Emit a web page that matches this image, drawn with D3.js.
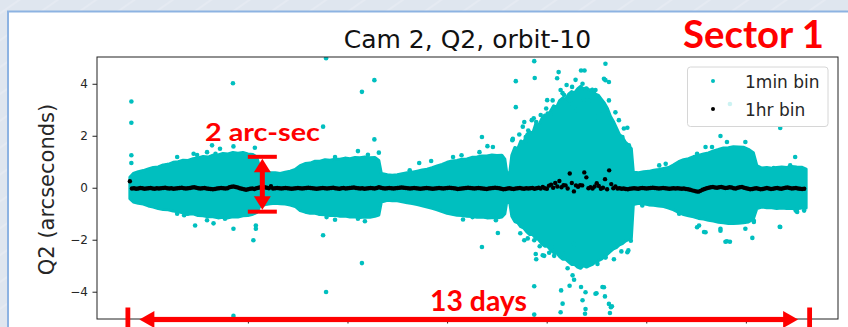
<!DOCTYPE html>
<html><head><meta charset="utf-8">
<script src="https://cdn.jsdelivr.net/npm/d3@7"></script>
<style>html,body{margin:0;padding:0;background:#dfe6ef;overflow:hidden} svg{display:block}</style>
</head><body><svg id="c" width="848" height="327"></svg>
<script>
// ---------- data ----------
const title = "Cam 2, Q2, orbit-10";
const yLabel = "Q2 (arcseconds)";
const xTicks = [1340, 1342, 1344, 1346, 1348, 1350, 1352];   // tick labels fall below the visible area
const yTicks = [-4, -2, 0, 2, 4];
const legendLabels = ["1min bin", "1hr bin"];

// dense core of the 1-min cloud (upper / lower envelope)
const coreDays = [1339.63,1339.70,1339.80,1339.90,1340.00,1340.10,1340.20,1340.30,1340.40,1340.50,1340.60,1340.70,1340.80,1340.90,1341.00,1341.10,1341.20,1341.30,1341.40,1341.50,1341.60,1341.70,1341.80,1341.90,1342.00,1342.10,1342.18,1342.24,
 1342.35,1342.45,1342.55,1342.65,1342.75,1342.85,1342.95,
 1343.05,1343.15,1343.25,1343.35,1343.45,1343.55,1343.65,1343.75,1343.85,1343.95,1344.05,1344.15,1344.25,1344.35,1344.45,1344.55,1344.63,1344.68,
 1344.80,1344.90,1345.00,1345.10,1345.20,1345.30,1345.40,1345.50,1345.60,1345.70,1345.80,1345.90,
 1346.00,1346.10,1346.20,1346.30,1346.40,1346.50,1346.60,1346.70,1346.80,1346.90,1347.00,1347.10,1347.16,1347.20,1347.26,
 1347.30,1347.36,1347.42,1347.48,1347.54,1347.60,1347.66,1347.72,1347.78,1347.84,1347.90,1347.96,1348.02,1348.08,1348.14,1348.20,1348.26,1348.32,1348.38,1348.44,1348.50,1348.56,1348.62,1348.68,1348.74,1348.80,1348.86,1348.92,1348.98,1349.04,1349.10,1349.16,1349.22,1349.28,1349.34,1349.40,1349.46,1349.52,1349.58,1349.64,1349.70,1349.74,
 1349.85,1349.95,1350.05,1350.15,1350.25,1350.35,1350.45,1350.55,
 1350.65,1350.75,1350.85,1350.95,1351.05,1351.15,1351.25,1351.35,1351.45,1351.55,1351.65,1351.75,1351.85,1351.95,1352.05,1352.15,1352.22,
 1352.32,1352.42,1352.52,1352.62,1352.72,1352.82,1352.92,1353.02,1353.12,1353.21];
const coreUpper = [0.40,0.55,0.62,0.66,0.72,0.78,0.80,0.88,0.90,0.98,1.00,1.06,1.05,1.12,1.15,1.20,1.18,1.25,1.26,1.32,1.30,1.36,1.33,1.36,1.30,1.28,1.18,0.75,
 0.62,0.58,0.58,0.55,0.60,0.64,0.70,
 0.85,0.93,0.95,1.02,1.02,1.08,1.06,1.10,1.10,1.14,1.12,1.16,1.15,1.18,1.15,1.16,1.05,0.55,
 0.50,0.48,0.50,0.54,0.58,0.60,0.64,0.68,0.71,0.77,0.84,0.90,
 0.98,1.03,1.05,1.10,1.11,1.17,1.18,1.22,1.22,1.26,1.24,1.25,1.10,0.55,0.60,
 1.25,1.55,1.50,1.80,1.75,2.05,2.15,2.10,2.45,2.40,2.65,2.80,2.75,2.95,3.15,3.10,3.35,3.45,3.40,3.60,3.70,3.65,3.80,3.90,3.80,3.85,3.75,3.80,3.60,3.55,3.40,3.25,3.05,2.75,2.55,2.30,2.05,1.95,1.75,1.65,1.50,0.60,
 0.58,0.62,0.63,0.67,0.70,0.74,0.78,0.88,
 1.00,1.08,1.12,1.20,1.24,1.30,1.34,1.42,1.47,1.53,1.54,1.58,1.57,1.56,1.48,1.35,0.85,
 0.76,0.78,0.75,0.78,0.80,0.78,0.82,0.80,0.79,0.72];
const coreLower = [-0.42,-0.55,-0.60,-0.63,-0.70,-0.74,-0.80,-0.84,-0.85,-0.90,-0.92,-0.97,-1.02,-1.00,-1.07,-1.08,-1.12,-1.12,-1.16,-1.14,-1.16,-1.12,-1.13,-1.08,-1.07,-1.02,-0.95,-0.72,
 -0.65,-0.62,-0.60,-0.62,-0.63,-0.67,-0.72,
 -0.88,-0.94,-0.98,-0.98,-1.03,-1.04,-1.07,-1.06,-1.10,-1.09,-1.13,-1.12,-1.15,-1.13,-1.14,-1.10,-1.05,-0.55,
 -0.48,-0.50,-0.50,-0.54,-0.58,-0.61,-0.65,-0.69,-0.74,-0.79,-0.85,-0.92,
 -0.98,-1.02,-1.06,-1.07,-1.10,-1.11,-1.14,-1.13,-1.16,-1.15,-1.17,-1.13,-1.00,-0.52,-0.60,
 -1.10,-1.30,-1.35,-1.50,-1.55,-1.70,-1.80,-1.80,-1.95,-2.00,-2.15,-2.25,-2.25,-2.40,-2.50,-2.50,-2.65,-2.75,-2.75,-2.85,-2.95,-2.95,-3.05,-3.10,-3.00,-3.05,-3.00,-2.95,-2.85,-2.80,-2.75,-2.65,-2.55,-2.45,-2.35,-2.30,-2.20,-2.15,-2.05,-2.00,-1.95,-0.65,
 -0.60,-0.62,-0.66,-0.67,-0.70,-0.72,-0.78,-0.85,
 -0.95,-1.03,-1.08,-1.12,-1.18,-1.20,-1.25,-1.28,-1.33,-1.35,-1.38,-1.38,-1.37,-1.35,-1.32,-1.20,-0.80,
 -0.74,-0.77,-0.77,-0.80,-0.78,-0.80,-0.80,-0.81,-0.78,-0.78];

// individual 1-min points outside the dense core
const minDays = [1339.66,1339.66,1339.66,1339.66,1341.28,1341.44,1340.94,1340.58,1340.72,1340.19,1340.98,1340.58,1340.38,1341.70,1343.57,1344.29,1344.54,1343.51,1344.54,1342.11,1342.16,1342.16,1341.71,1343.51,1343.57,1341.71,1343.58,1343.75,1341.54,1343.45,1341.71,1342.14,1343.75,1343.41,1344.29,1344.21,1344.41,1344.63,1344.35,1344.21,1345.44,1345.68,1345.25,1346.32,1346.12,1346.29,1347.75,1347.76,1347.38,1347.38,1348.24,1348.32,1347.55,1347.79,1346.70,1346.92,1347.32,1347.58,1348.69,1348.76,1348.72,1348.49,1348.02,1348.12,1346.70,1347.02,1347.55,1347.75,1347.79,1347.92,1347.75,1347.75,1348.29,1348.32,1348.52,1348.55,1348.69,1348.72,1348.77,1348.32,1348.15,1348.28,1348.46,1348.78,1348.78,1349.00,1349.15,1349.25,1349.29,1347.78,1347.95,1348.15,1348.55,1348.88,1349.02,1349.18,1349.62,1349.69,1349.42,1351.59,1351.68,1352.13,1352.68,1351.19,1351.49,1351.02,1353.00,1353.17,1352.16,1349.18,1349.15,1349.25,1349.25,1348.85,1348.98,1349.62,1349.52,1349.65,1349.12,1349.17,1349.31,1349.27,1348.98,1349.64,1349.18,1351.19,1351.02,1350.39,1350.26,1351.16,1351.06,1350.66,1349.92,1351.49,1351.62,1351.99,1351.86,1352.69,1352.99,1352.56,1352.89,1351.62,1351.99,1352.69,1352.16,1353.03,1351.49,1348.21,1349.18,1349.55,1347.74,1347.81,1348.28,1348.35,1348.51,1348.45,1348.61,1348.75,1348.98,1349.08,1347.31,1347.58,1348.01,1348.08,1347.66,1346.81,1340.91,1341.18,1341.35,1341.18,1341.31,1340.78,1344.04,1344.58,1346.65,1347.05,1346.51,1346.98,1351.32,1351.68,
 1347.45,1347.52,1347.63,1347.70,1347.88,1347.99,1348.40,1348.58,1349.38,1349.45,1347.47,1347.62,1347.86,1348.05,1348.42,1349.35,1349.50];
const minValues = [3.32,2.50,1.25,0.95,1.63,1.50,-1.45,-1.00,-1.06,-0.62,1.26,1.18,0.87,4.02,4.98,3.69,4.14,2.35,1.86,-2.02,-1.45,-1.58,-1.58,-1.83,-4.01,-4.93,-1.13,-1.23,-1.19,-1.00,1.59,1.54,1.18,0.80,-2.90,1.41,1.27,1.35,-1.29,-1.19,0.95,1.03,0.67,-1.22,1.18,1.25,4.87,4.22,4.10,3.10,4.45,3.64,2.53,2.53,1.95,1.57,1.88,1.95,4.51,4.51,4.00,3.26,2.85,3.36,-2.28,-1.74,-2.02,-2.02,-2.75,-2.60,-3.79,-4.88,-3.95,-4.46,-3.37,-3.54,-3.82,-4.33,-4.85,-2.54,-2.28,-4.79,-3.77,-4.67,-4.02,-4.06,-3.83,-4.47,-4.60,-2.55,-2.62,-2.62,-2.17,-2.93,-2.93,-2.68,-2.48,-2.04,-2.17,-2.08,-2.08,-1.93,-1.50,-1.71,-1.65,-1.52,-0.88,-0.88,-1.27,4.77,4.19,4.07,3.36,3.36,2.72,2.31,1.95,1.63,-3.82,-4.18,-4.56,-4.82,-4.08,-2.41,-2.67,1.57,1.31,0.92,0.86,-1.70,-1.45,-1.00,-0.68,1.99,1.76,1.76,1.50,2.30,1.18,0.76,0.86,-2.06,-1.58,-1.51,-1.32,-0.93,-1.58,4.21,4.14,2.28,2.67,2.35,3.76,3.57,3.88,3.37,2.99,3.37,3.76,2.99,1.83,1.77,3.37,2.86,2.09,1.60,1.31,1.37,1.31,-1.25,-1.37,-1.00,-1.00,-1.00,1.37,1.18,-1.13,-1.25,1.57,3.22,
 2.05,2.35,2.20,2.60,2.80,3.05,3.95,4.15,2.90,2.60,-1.75,-1.95,-2.25,-2.50,-3.10,-2.75,-2.45];

// 1-hour bins (one value per hour starting at hrStart)
const hrStart = 1339.63;
const hrValues = [
 0.25,-0.03,-0.02,-0.04,-0.03,-0.01,-0.02,-0.04,-0.03,-0.02,-0.01,-0.03,-0.04,-0.02,-0.03,-0.02,-0.01,0.0,-0.02,-0.03,-0.02,-0.04,-0.03,-0.02,
 -0.01,0.0,-0.02,-0.03,-0.02,-0.01,0.01,0.02,0.0,-0.02,-0.03,-0.02,-0.01,-0.03,-0.04,-0.05,-0.06,-0.05,-0.03,-0.02,-0.01,-0.02,-0.03,-0.02,
 0.02,0.04,0.05,0.03,0.01,-0.02,-0.04,-0.06,-0.08,-0.06,-0.04,-0.03,-0.05,-0.02,0.0,0.02,0.03,0.02,0.0,-0.02,0.06,-0.03,-0.02,-0.01,
 -0.02,-0.03,-0.02,-0.01,-0.02,-0.03,-0.04,-0.03,-0.02,-0.01,-0.02,-0.03,-0.02,-0.01,0.0,-0.01,-0.02,-0.03,-0.04,-0.03,-0.02,-0.01,-0.02,-0.03,
 -0.02,-0.01,0.0,-0.02,-0.03,-0.04,-0.02,-0.01,-0.03,-0.02,-0.01,0.0,0.01,-0.01,-0.02,-0.03,-0.02,-0.04,-0.03,-0.02,-0.01,-0.02,-0.03,-0.01,
 0.02,0.0,-0.02,-0.03,-0.02,-0.01,-0.02,-0.03,-0.02,-0.01,0.0,0.01,0.0,-0.01,-0.02,-0.03,-0.02,-0.01,-0.02,-0.03,-0.04,-0.03,-0.02,-0.01,
 -0.02,-0.03,-0.04,-0.03,-0.02,-0.01,-0.02,-0.03,-0.02,-0.01,0.0,-0.01,-0.02,-0.03,-0.05,-0.04,-0.03,-0.02,-0.01,0.0,-0.01,-0.02,-0.03,-0.02,
 -0.01,-0.02,-0.03,-0.04,-0.05,-0.03,-0.02,-0.01,0.0,-0.01,-0.02,-0.04,-0.06,-0.05,-0.03,-0.02,-0.04,-0.05,-0.03,-0.02,-0.01,-0.03,-0.04,-0.02,
 -0.03,-0.02,-0.01,-0.04,-0.02,0.0,-0.03,0.03,-0.02,-0.04,0.08,0.12,0.0,0.18,0.05,0.26,0.02,0.1,0.09,-0.03,0.55,0.18,-0.14,0.09,
 0.04,0.1,0.09,0.59,0.4,-0.02,0.02,-0.03,0.05,0.17,0.07,-0.04,0.0,0.33,-0.06,0.67,0.14,-0.02,0.05,-0.03,-0.02,-0.04,-0.03,-0.05,
 -0.06,-0.04,-0.03,-0.02,-0.03,-0.04,-0.02,-0.01,-0.02,-0.03,-0.02,-0.01,0.0,-0.01,-0.02,-0.03,-0.02,-0.01,-0.02,-0.03,-0.04,-0.03,-0.02,-0.03,
 -0.02,-0.03,-0.04,-0.03,-0.05,-0.06,-0.08,-0.1,-0.12,-0.14,-0.15,-0.12,-0.08,-0.05,-0.02,0.0,0.02,0.03,0.01,0.0,0.02,0.03,0.01,-0.01,
 0.0,0.02,0.01,-0.02,-0.03,0.0,0.02,0.03,0.0,-0.02,-0.04,-0.06,-0.05,-0.03,-0.02,-0.04,-0.06,-0.05,-0.03,-0.01,-0.03,-0.05,-0.04,-0.02,
 -0.01,-0.03,-0.04,-0.02,0.0,0.01,-0.01,-0.03,-0.02,-0.01,-0.03,-0.04,-0.05,-0.04
];

// annotation anchors (data coordinates)
const spanBar = {day: 1342.29, top: 1.19, bottom: -0.92};
const dayArrow = {start: 1339.59, end: 1353.28};

// ---------- drawing ----------
const W = 848, H = 327;
const M = {left: 97, right: 838, top: 57, bottom: 319};
const CYAN = "#00bfbf", RED = "#ff0000";
const svg = d3.select("#c");
const defs = svg.append("defs");

// slide background with faint diagonal stripes
const pat = defs.append("pattern").attr("id","stripes").attr("patternUnits","userSpaceOnUse")
  .attr("width",22).attr("height",22).attr("patternTransform","rotate(-35)");
pat.append("rect").attr("width",22).attr("height",22).attr("fill","#dfe6ef");
pat.append("line").attr("x1",0).attr("y1",11).attr("x2",22).attr("y2",11)
  .attr("stroke","#ffffff").attr("stroke-opacity",0.35).attr("stroke-width",1);
svg.append("rect").attr("width",W).attr("height",H).attr("fill","url(#stripes)");
// white panel
svg.append("rect").attr("x",8).attr("y",11.5).attr("width",W).attr("height",H)
  .attr("fill","#ffffff").attr("stroke","#8db3e2").attr("stroke-width",2);

const x = d3.scaleLinear().domain([1338.97, 1353.85]).range([M.left, M.right]);
const y = d3.scaleLinear().domain([-5.05, 5.03]).range([M.bottom, M.top]);

defs.append("clipPath").attr("id","plotclip").append("rect")
  .attr("x",M.left).attr("y",M.top).attr("width",M.right-M.left).attr("height",M.bottom-M.top);

const plot = svg.append("g").attr("clip-path","url(#plotclip)");

// dense 1-min core
const core = coreDays.map((d,i)=>({day:d, hi:coreUpper[i], lo:coreLower[i]}));
plot.append("path").datum(core)
  .attr("d", d3.area().x(d=>x(d.day)).y0(d=>y(d.lo)).y1(d=>y(d.hi)))
  .attr("fill",CYAN).attr("stroke",CYAN).attr("stroke-width",3).attr("stroke-linejoin","round");

// individual 1-min points
plot.append("g").selectAll("circle").data(minDays.map((d,i)=>({day:d, v:minValues[i]})))
  .join("circle").attr("cx",d=>x(d.day)).attr("cy",d=>y(d.v)).attr("r",2.3).attr("fill",CYAN);

// 1-hr points
plot.append("g").selectAll("circle").data(hrValues.map((v,i)=>({day:hrStart+i/24, v})))
  .join("circle").attr("cx",d=>x(d.day)).attr("cy",d=>y(d.v)).attr("r",2.2).attr("fill","#000");

// axes
const tickFont = "DejaVu Sans, sans-serif";
const gy = svg.append("g").attr("transform",`translate(${M.left},0)`)
  .call(d3.axisLeft(y).tickValues(yTicks).tickSize(4.5).tickPadding(4.5).tickFormat(d3.format("d")));
const gx = svg.append("g").attr("transform",`translate(0,${M.bottom})`)
  .call(d3.axisBottom(x).tickValues(xTicks).tickSize(4.5).tickFormat(""));
[gy,gx].forEach(g=>{
  g.select(".domain").remove();
  g.selectAll("line").attr("stroke","#222").attr("stroke-width",1);
  g.selectAll("text").attr("font-family",tickFont).attr("font-size",12).attr("fill","#262626");
});
svg.append("rect").attr("x",M.left).attr("y",M.top).attr("width",M.right-M.left).attr("height",M.bottom-M.top)
  .attr("fill","none").attr("stroke","#222").attr("stroke-width",1);

// title & y label
svg.append("text").attr("x",(M.left+M.right)/2).attr("y",48).attr("text-anchor","middle")
  .attr("font-family",tickFont).attr("font-size",25).attr("fill","#111").text(title);
svg.append("text").attr("transform",`translate(54,189.5) rotate(-90)`).attr("text-anchor","middle")
  .attr("font-family",tickFont).attr("font-size",21).attr("fill","#262626").text(yLabel);

// legend
const lg = svg.append("g");
lg.append("rect").attr("x",687.5).attr("y",67).attr("width",140.5).attr("height",59.5).attr("rx",3)
  .attr("fill","#fff").attr("fill-opacity",0.8).attr("stroke","#d6d6d6").attr("stroke-width",1);
[CYAN,"#000"].forEach((c,i)=>{
  lg.append("circle").attr("cx",713).attr("cy",81+28*i).attr("r",2).attr("fill",c);
  lg.append("text").attr("x",745).attr("y",87.5+28*i).attr("font-family",tickFont).attr("font-size",17)
    .attr("fill","#262626").text(legendLabels[i]);
});

// ---------- red annotations ----------
const ann = svg.append("g").attr("fill",RED);
const boldFont = "Lato, 'Open Sans', sans-serif";
ann.append("text").attr("x",683).attr("y",48).attr("font-family",boldFont).attr("font-weight",700)
  .attr("font-size",38.5).attr("textLength",141).attr("lengthAdjust","spacingAndGlyphs").text("Sector 1");
ann.append("text").attr("x",205).attr("y",140.5).attr("font-family",boldFont).attr("font-weight",700)
  .attr("font-size",25.5).attr("textLength",115).attr("lengthAdjust","spacingAndGlyphs").text("2 arc-sec");
ann.append("text").attr("x",430).attr("y",311).attr("font-family",boldFont).attr("font-weight",700)
  .attr("font-size",28).attr("textLength",97).attr("lengthAdjust","spacingAndGlyphs").text("13 days");

// vertical span marker
const vx = x(spanBar.day), vt = y(spanBar.top), vb = y(spanBar.bottom);
ann.append("rect").attr("x",vx-14.5).attr("y",vt-2).attr("width",29).attr("height",4);
ann.append("rect").attr("x",vx-14.5).attr("y",vb-2).attr("width",29).attr("height",4);
ann.append("rect").attr("x",vx-2.5).attr("y",vt+12).attr("width",5).attr("height",vb-vt-24);
ann.append("path").attr("d",`M${vx},${vt+2} L${vx-8.5},${vt+15.5} L${vx+8.5},${vt+15.5}Z`);
ann.append("path").attr("d",`M${vx},${vb-2} L${vx-8.5},${vb-15.5} L${vx+8.5},${vb-15.5}Z`);

// horizontal day-span arrow
const hy = M.bottom + 0.5, hx0 = x(dayArrow.start), hx1 = x(dayArrow.end);
ann.append("rect").attr("x",hx0-2.4).attr("y",hy-12).attr("width",4.8).attr("height",30);
ann.append("rect").attr("x",hx1-2.4).attr("y",hy-12).attr("width",4.8).attr("height",30);
const tipL = hx0 + 11.5, tipR = hx1 - 11.5;
ann.append("rect").attr("x",tipL+10).attr("y",hy-2.6).attr("width",tipR-tipL-20).attr("height",5.2);
ann.append("path").attr("d",`M${tipL},${hy} L${tipL+15},${hy-8.5} L${tipL+15},${hy+8.5}Z`);
ann.append("path").attr("d",`M${tipR},${hy} L${tipR-15},${hy-8.5} L${tipR-15},${hy+8.5}Z`);
</script></body></html>
